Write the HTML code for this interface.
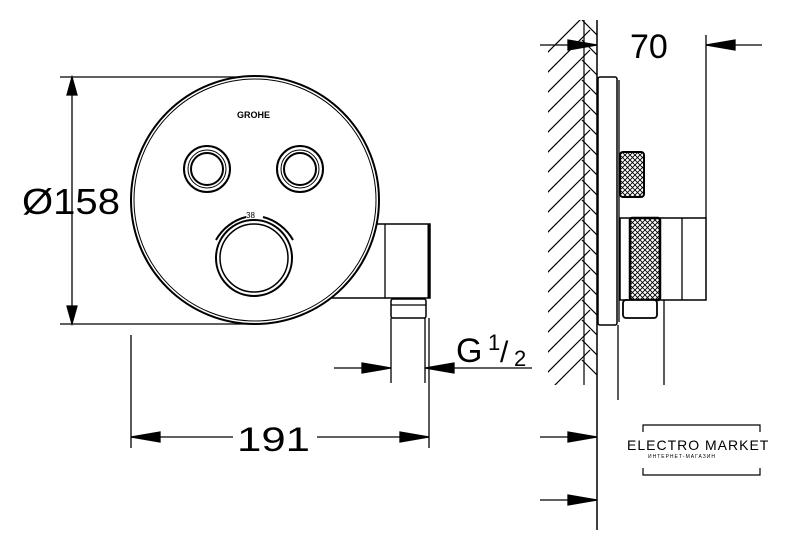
<!DOCTYPE html>
<html><head><style>body{margin:0;background:#fff}svg{display:block}</style></head><body>
<svg width="790" height="536" viewBox="0 0 790 536" xmlns="http://www.w3.org/2000/svg" font-family="Liberation Sans, sans-serif">
<defs>
<pattern id="kn" width="5" height="5" patternUnits="userSpaceOnUse"><rect width="5" height="5" fill="#fff"/><path d="M0 0L5 5M5 0L0 5" stroke="#000" stroke-width="0.9"/></pattern>
<clipPath id="wc"><rect x="548" y="20" width="49" height="365"/></clipPath>
</defs>
<g stroke="#000" fill="none" stroke-width="1.3">
<line x1="60" y1="77" x2="255" y2="77"/>
<line x1="60" y1="324" x2="255" y2="324"/>
<line x1="72" y1="77" x2="72" y2="324"/>
<polygon points="72,77 67,95 77,95" fill="#000"/>
<polygon points="72,324 67,306 77,306" fill="#000"/>
<path d="M330 224 H430 V298 H330" fill="#fff" stroke-width="1.5"/>
<line x1="385" y1="224" x2="385" y2="298"/>
<line x1="429" y1="224" x2="429" y2="298" stroke-width="3"/>
<rect x="391" y="299" width="35" height="19" rx="2" fill="#fff" stroke-width="1.5"/>
<line x1="391" y1="305" x2="426" y2="305"/>
<circle cx="255" cy="200" r="124" fill="#fff" stroke-width="2"/>
<circle cx="255" cy="200" r="121" stroke-width="1"/>
<circle cx="207" cy="169" r="23" stroke-width="2"/><circle cx="207" cy="169" r="19" stroke-width="1"/><circle cx="207" cy="169" r="16" stroke-width="2"/>
<circle cx="300" cy="169" r="23" stroke-width="2"/><circle cx="300" cy="169" r="19" stroke-width="1"/><circle cx="300" cy="169" r="16" stroke-width="2"/>
<circle cx="254" cy="258" r="38" stroke-width="2"/><circle cx="254" cy="258" r="34" stroke-width="1.5"/>
<path d="M216 240 A48 48 0 0 1 246 217" stroke-width="2"/>
<path d="M263 217 A48 48 0 0 1 293 240" stroke-width="2"/>
<line x1="131" y1="335" x2="131" y2="448"/>
<line x1="429" y1="318" x2="429" y2="448"/>
<line x1="131" y1="437" x2="233" y2="437"/>
<line x1="317" y1="437" x2="429" y2="437"/>
<polygon points="131,437 160,432 160,442" fill="#000"/>
<polygon points="429,437 400,432 400,442" fill="#000"/>
<line x1="391" y1="318" x2="391" y2="383"/>
<line x1="425" y1="318" x2="425" y2="383"/>
<line x1="334" y1="368" x2="391" y2="368"/>
<line x1="425" y1="368" x2="532" y2="368"/>
<polygon points="391,368 362,363 362,373" fill="#000"/>
<polygon points="425,368 454,363 454,373" fill="#000"/>
<g clip-path="url(#wc)" stroke-width="1.2">
<path d="M540 60 l50 -50 M540 80 l50 -50 M540 100 l50 -50 M540 120 l50 -50 M540 140 l50 -50 M540 160 l50 -50 M540 180 l50 -50 M540 200 l50 -50 M540 220 l50 -50 M540 240 l50 -50 M540 260 l50 -50 M540 280 l50 -50 M540 300 l50 -50 M540 320 l50 -50 M540 340 l50 -50 M540 360 l50 -50 M540 380 l50 -50 M540 400 l50 -50"/>
<path d="M582 20 l15 15 M582 40 l15 15 M582 60 l15 15 M582 80 l15 15 M582 100 l15 15 M582 120 l15 15 M582 140 l15 15 M582 160 l15 15 M582 180 l15 15 M582 200 l15 15 M582 220 l15 15 M582 240 l15 15 M582 260 l15 15 M582 280 l15 15 M582 300 l15 15 M582 320 l15 15 M582 340 l15 15 M582 360 l15 15"/>
<line x1="584" y1="20" x2="584" y2="385"/>
</g>
<line x1="597" y1="20" x2="597" y2="530" stroke-width="1.5"/>
<line x1="540" y1="45" x2="597" y2="45"/>
<polygon points="597,45 568,40 568,50" fill="#000"/>
<line x1="706" y1="45" x2="762" y2="45"/>
<polygon points="706,45 735,40 735,50" fill="#000"/>
<line x1="706" y1="35" x2="706" y2="218"/>
<line x1="540" y1="437" x2="597" y2="437"/>
<polygon points="597,437 568,432 568,442" fill="#000"/>
<line x1="540" y1="500" x2="597" y2="500"/>
<polygon points="597,500 568,495 568,505" fill="#000"/>
<rect x="598" y="77" width="19" height="248" rx="2" fill="#fff" stroke-width="1.5"/>
<line x1="619" y1="80" x2="619" y2="322"/>
<line x1="618" y1="325" x2="618" y2="400"/>
<rect x="620" y="152" width="24" height="45" rx="3" fill="url(#kn)" stroke-width="2"/>
<rect x="620" y="218" width="86" height="82" fill="#fff" stroke-width="1.5"/>
<rect x="630" y="218" width="30" height="82" rx="2" fill="url(#kn)" stroke-width="2.5"/>
<line x1="682" y1="218" x2="682" y2="300"/>
<rect x="623" y="300" width="34" height="18" rx="3" fill="#fff" stroke-width="1.8"/>
<line x1="664" y1="300" x2="664" y2="385"/>
<path d="M643 432 V425 H760 V432 M643 468 V475 H760 V468" stroke-width="1.2"/>
</g>
<g fill="#000">
<text x="22" y="214" font-size="36" textLength="98" lengthAdjust="spacingAndGlyphs">Ø158</text>
<text x="237" y="451" font-size="34" textLength="73" lengthAdjust="spacingAndGlyphs">191</text>
<text x="456" y="362" font-size="34">G</text>
<text x="488" y="350" font-size="22">1</text>
<text x="500" y="362" font-size="30">/</text>
<text x="514" y="366" font-size="22">2</text>
<text x="630" y="58" font-size="34">70</text>
<text x="246" y="218" font-size="8">38</text>
<text x="237" y="118" font-size="9" font-weight="bold">GROHE</text>
<text x="627" y="450" font-size="14" letter-spacing="1">ELECTRO MARKET</text>
<text x="648" y="458" font-size="5" letter-spacing="1">ИНТЕРНЕТ-МАГАЗИН</text>
</g>
</svg>
</body></html>
